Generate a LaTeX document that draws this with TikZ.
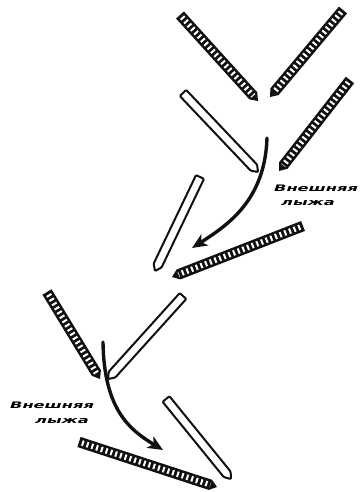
\documentclass[tikz,border=0pt]{standalone}
\usepackage{fontspec}
\usepackage{tikz}
\usetikzlibrary{calc,arrows.meta}
\newfontfamily\skifont{DejaVu Sans}[FakeStretch=1.8]
\definecolor{tinta}{HTML}{111111}
\tikzset{
  hatchski/.style={fill=tinta},
  rungs/.style={white,line width=5.5pt,line cap=butt,dash pattern=on 2pt off 3pt},
  plainski/.style={draw=tinta,fill=white,line width=2pt,rounded corners=1pt},
  turn/.style={tinta,line width=3.4pt,-{Stealth[length=15pt,width=13pt,inset=4pt]}},
  skilabel/.style={font=\skifont\bfseries\itshape\fontsize{9}{10}\selectfont,inner sep=0pt,anchor=west}
}

\begin{document}
\begin{tikzpicture}[x=1pt,y=-1pt,line cap=round]
        \useasboundingbox (0,0) rectangle (359,492);
        % --- esquis rayados (cola / punta) ---
        \coordinate (h1a) at (180,15);  \coordinate (h1b) at (258,101);
        \coordinate (h2a) at (343,10);  \coordinate (h2b) at (270,97);
        \coordinate (h3a) at (350,80);  \coordinate (h3b) at (279,171);
        \coordinate (h4a) at (303,226); \coordinate (h4b) at (172,277);
        \coordinate (h5a) at (47,292);  \coordinate (h5b) at (100,379);
        \coordinate (h6a) at (79,442);  \coordinate (h6b) at (217,487);
        % --- esquis lisos ---
        \coordinate (p1a) at (183,93);  \coordinate (p1b) at (258,172);
        \coordinate (p2a) at (200,177); \coordinate (p2b) at (155,271);
        \coordinate (p3a) at (183,296); \coordinate (p3b) at (108,379);
        \coordinate (p4a) at (166,399); \coordinate (p4b) at (231,479);
        % --- esquis rayados ---
        \foreach \tail/\tip in {h1a/h1b,h2a/h2b,h3a/h3b,h4a/h4b,h5a/h5b,h6a/h6b}{
          \coordinate (c) at ($(\tip)!7pt!(\tail)$);
          \fill[hatchski] ($(\tail)!5.3pt!90:(\tip)$) -- ($(c)!5.3pt!90:(\tip)$) -- (\tip)
                -- ($(c)!5.3pt!-90:(\tip)$) -- ($(\tail)!5.3pt!-90:(\tip)$) -- cycle;
          \draw[rungs] ($(\tail)!3pt!(\tip)$) -- ($(\tip)!7pt!(\tail)$);
        }
        % --- esquis lisos ---
        \foreach \tail/\tip in {p1a/p1b,p2a/p2b,p3a/p3b,p4a/p4b}{
          \coordinate (c) at ($(\tip)!6pt!(\tail)$);
          \draw[plainski] ($(\tail)!4.4pt!90:(\tip)$) -- ($(c)!4.4pt!90:(\tip)$) -- (\tip)
                -- ($(c)!4.4pt!-90:(\tip)$) -- ($(\tail)!4.4pt!-90:(\tip)$) -- cycle;
        }
        % --- flechas de giro ---
        \coordinate (t1s) at (267,138); \coordinate (t1e) at (192,248);
        \coordinate (t2s) at (103,342); \coordinate (t2e) at (163,450);
        \draw[turn] (t1s) .. controls (265,200) and (228,225) .. (t1e);
        \draw[turn] (t2s) .. controls (104,410) and (130,430) .. (t2e);
        % --- rotulos ---
        \node[skilabel] (ext1) at (274,188) {Внешняя};
        \node[skilabel] (ski1) at (281,203) {лыжа};
        \node[skilabel] (ext2) at (10,405) {Внешняя};
        \node[skilabel] (ski2) at (35,421) {лыжа};
      \end{tikzpicture}
\end{document}
